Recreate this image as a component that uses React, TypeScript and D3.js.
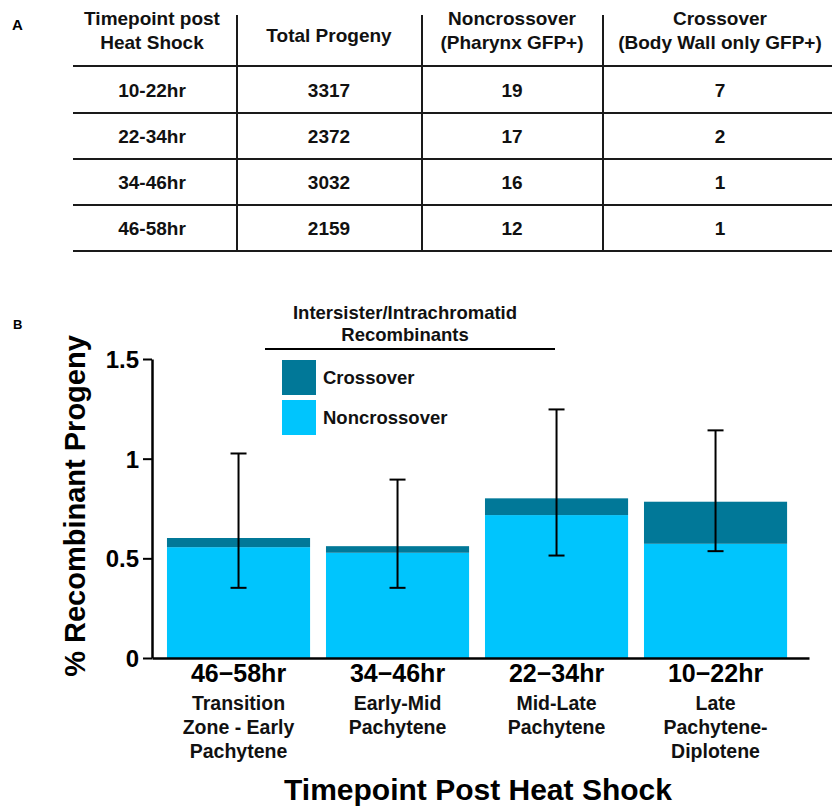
import { useEffect, useRef } from 'react'
import * as d3 from 'd3'

// Panel A table
const tableHeaders = [
  ['Timepoint post', 'Heat Shock'],
  ['Total Progeny'],
  ['Noncrossover', '(Pharynx GFP+)'],
  ['Crossover', '(Body Wall only GFP+)'],
]
const tableTimepoints = ['10-22hr', '22-34hr', '34-46hr', '46-58hr']
const totalProgeny = [3317, 2372, 3032, 2159]
const noncrossoverCounts = [19, 17, 16, 12]
const crossoverCounts = [7, 2, 1, 1]

// Panel B chart
const barLabels = ['46\u221258hr', '34\u221246hr', '22\u221234hr', '10\u221222hr']
const stageLabels = [
  ['Transition', 'Zone - Early', 'Pachytene'],
  ['Early-Mid', 'Pachytene'],
  ['Mid-Late', 'Pachytene'],
  ['Late', 'Pachytene-', 'Diplotene'],
]
const noncrossoverPct = [0.556, 0.528, 0.717, 0.573]
const crossoverPct = [0.046, 0.033, 0.084, 0.211]
const errLow = [0.352, 0.352, 0.514, 0.536]
const errHigh = [1.026, 0.895, 1.247, 1.142]
const yTicks = [0, 0.5, 1, 1.5]

const FONT = '"Liberation Sans", Arial, sans-serif'
const NCO_COLOR = '#00c5fd'
const CO_COLOR = '#017898'

export default function App() {
  const svgRef = useRef<SVGSVGElement>(null)

  useEffect(() => {
    if (!svgRef.current) return
    const width = 832
    const height = 806

    const svg = d3.select(svgRef.current)
    svg.selectAll('*').remove()
    svg.attr('width', width).attr('height', height)
      .style('font-family', FONT)
      .style('font-weight', 'bold')

    // ---------- Panel A: table ----------
    svg.append('text').attr('x', 12).attr('y', 30).attr('font-size', 15).text('A')

    const colX = [73, 237, 422, 603, 832]
    const colCenter = [152, 329, 512, 720]
    const rowLines = [66, 113, 159, 205, 251]
    const rowCenters = [90, 136, 182, 228]

    const ta = svg.append('g')
    ta.selectAll('.hline')
      .data(rowLines)
      .join('line')
      .attr('x1', colX[0]).attr('x2', colX[4])
      .attr('y1', d => d).attr('y2', d => d)
      .attr('stroke', '#1a1a1a').attr('stroke-width', 2)
    ta.selectAll('.vline')
      .data(colX.slice(1, 4))
      .join('line')
      .attr('x1', d => d).attr('x2', d => d)
      .attr('y1', 15).attr('y2', 251)
      .attr('stroke', '#1a1a1a').attr('stroke-width', 2)

    tableHeaders.forEach((lines, i) => {
      const t = ta.append('text')
        .attr('text-anchor', 'middle')
        .attr('font-size', 19)
        .attr('fill', '#111')
      lines.forEach((ln, j) => {
        t.append('tspan')
          .attr('x', colCenter[i])
          .attr('y', lines.length === 1 ? 42 : 25 + j * 24)
          .text(ln)
      })
    })

    const rows = tableTimepoints.map((tp, i) => [tp, totalProgeny[i], noncrossoverCounts[i], crossoverCounts[i]])
    rows.forEach((row, r) => {
      row.forEach((v, c) => {
        ta.append('text')
          .attr('x', colCenter[c])
          .attr('y', rowCenters[r])
          .attr('dy', '0.35em')
          .attr('text-anchor', 'middle')
          .attr('font-size', 19)
          .attr('fill', '#111')
          .text(String(v))
      })
    })

    // ---------- Panel B: stacked bar chart ----------
    svg.append('text').attr('x', 13).attr('y', 329).attr('font-size', 13).text('B')

    const x = d3.scaleBand<string>()
      .domain(barLabels)
      .range([152, 809])
      .paddingInner(0.1)
      .paddingOuter(0.116)
      .align(0.406)

    const y = d3.scaleLinear().domain([0, 1.5]).range([658, 359])

    const g = svg.append('g')

    // noncrossover (bottom) and crossover (top) segments
    g.selectAll('.nco')
      .data(barLabels)
      .join('rect')
      .attr('x', d => x(d)!)
      .attr('width', x.bandwidth())
      .attr('y', (_, i) => y(noncrossoverPct[i]))
      .attr('height', (_, i) => y(0) - y(noncrossoverPct[i]))
      .attr('fill', NCO_COLOR)

    g.selectAll('.co')
      .data(barLabels)
      .join('rect')
      .attr('x', d => x(d)!)
      .attr('width', x.bandwidth())
      .attr('y', (_, i) => y(noncrossoverPct[i] + crossoverPct[i]))
      .attr('height', (_, i) => y(noncrossoverPct[i]) - y(noncrossoverPct[i] + crossoverPct[i]))
      .attr('fill', CO_COLOR)

    // error bars
    const eb = g.selectAll('.err')
      .data(barLabels)
      .join('g')
      .attr('transform', d => `translate(${x(d)! + x.bandwidth() / 2},0)`)
      .attr('stroke', '#000')
      .attr('stroke-width', 2)
    eb.append('line')
      .attr('y1', (_, i) => y(errLow[i])).attr('y2', (_, i) => y(errHigh[i]))
    eb.append('line')
      .attr('x1', -8).attr('x2', 8)
      .attr('y1', (_, i) => y(errHigh[i])).attr('y2', (_, i) => y(errHigh[i]))
    eb.append('line')
      .attr('x1', -8).attr('x2', 8)
      .attr('y1', (_, i) => y(errLow[i])).attr('y2', (_, i) => y(errLow[i]))

    // y axis
    const yAxis = g.append('g')
      .attr('transform', 'translate(152,0)')
      .call(d3.axisLeft(y).tickValues(yTicks).tickSize(9).tickSizeOuter(0).tickPadding(4)
        .tickFormat(d => String(d)))
    yAxis.select('.domain').attr('stroke', '#000').attr('stroke-width', 2.5)
    yAxis.selectAll('.tick line').attr('stroke', '#000').attr('stroke-width', 2)
    yAxis.selectAll('.tick text')
      .attr('font-size', 24)
      .attr('font-family', FONT)
      .attr('font-weight', 'bold')
      .attr('fill', '#000')
      .attr('dy', '0.36em')

    // x axis
    const xAxis = g.append('g')
      .attr('transform', 'translate(0,658)')
      .call(d3.axisBottom(x).tickSize(0).tickSizeOuter(0).tickFormat(() => ''))
    xAxis.select('.domain').attr('stroke', '#000').attr('stroke-width', 2.5)

    // x tick labels
    barLabels.forEach((lab, i) => {
      const cx = x(lab)! + x.bandwidth() / 2
      g.append('text')
        .attr('x', cx).attr('y', 682)
        .attr('text-anchor', 'middle')
        .attr('font-size', 25)
        .text(lab)
      stageLabels[i].forEach((s, j) => {
        g.append('text')
          .attr('x', cx).attr('y', 710 + j * 24)
          .attr('text-anchor', 'middle')
          .attr('font-size', 19.5)
          .attr('fill', '#111')
          .text(s)
      })
    })

    // axis titles
    g.append('text')
      .attr('x', 478).attr('y', 800)
      .attr('text-anchor', 'middle')
      .attr('font-size', 30)
      .text('Timepoint Post Heat Shock')
    g.append('text')
      .attr('transform', 'translate(85,506) rotate(-90)')
      .attr('text-anchor', 'middle')
      .attr('font-size', 29)
      .text('% Recombinant Progeny')

    // legend with header
    const lg = g.append('g')
    lg.append('text')
      .attr('x', 405).attr('y', 319)
      .attr('text-anchor', 'middle')
      .attr('font-size', 18.5)
      .attr('fill', '#111')
      .text('Intersister/Intrachromatid')
    lg.append('text')
      .attr('x', 405).attr('y', 341)
      .attr('text-anchor', 'middle')
      .attr('font-size', 18.5)
      .attr('fill', '#111')
      .text('Recombinants')
    lg.append('line')
      .attr('x1', 265).attr('x2', 555)
      .attr('y1', 349).attr('y2', 349)
      .attr('stroke', '#000').attr('stroke-width', 2)

    const legendItems = [
      { label: 'Crossover', color: CO_COLOR },
      { label: 'Noncrossover', color: NCO_COLOR },
    ]
    const li = lg.selectAll('.li')
      .data(legendItems)
      .join('g')
      .attr('transform', (_, i) => `translate(282,${360 + i * 40})`)
    li.append('rect')
      .attr('width', 34).attr('height', 35)
      .attr('fill', d => d.color)
    li.append('text')
      .attr('x', 41).attr('y', 17.5)
      .attr('dy', '0.35em')
      .attr('font-size', 18.5)
      .attr('fill', '#111')
      .text(d => d.label)
  }, [])

  return (
    <div style={{ position: 'absolute', left: 0, top: 0, background: '#fff' }}>
      <svg ref={svgRef} style={{ display: 'block' }} />
    </div>
  )
}
